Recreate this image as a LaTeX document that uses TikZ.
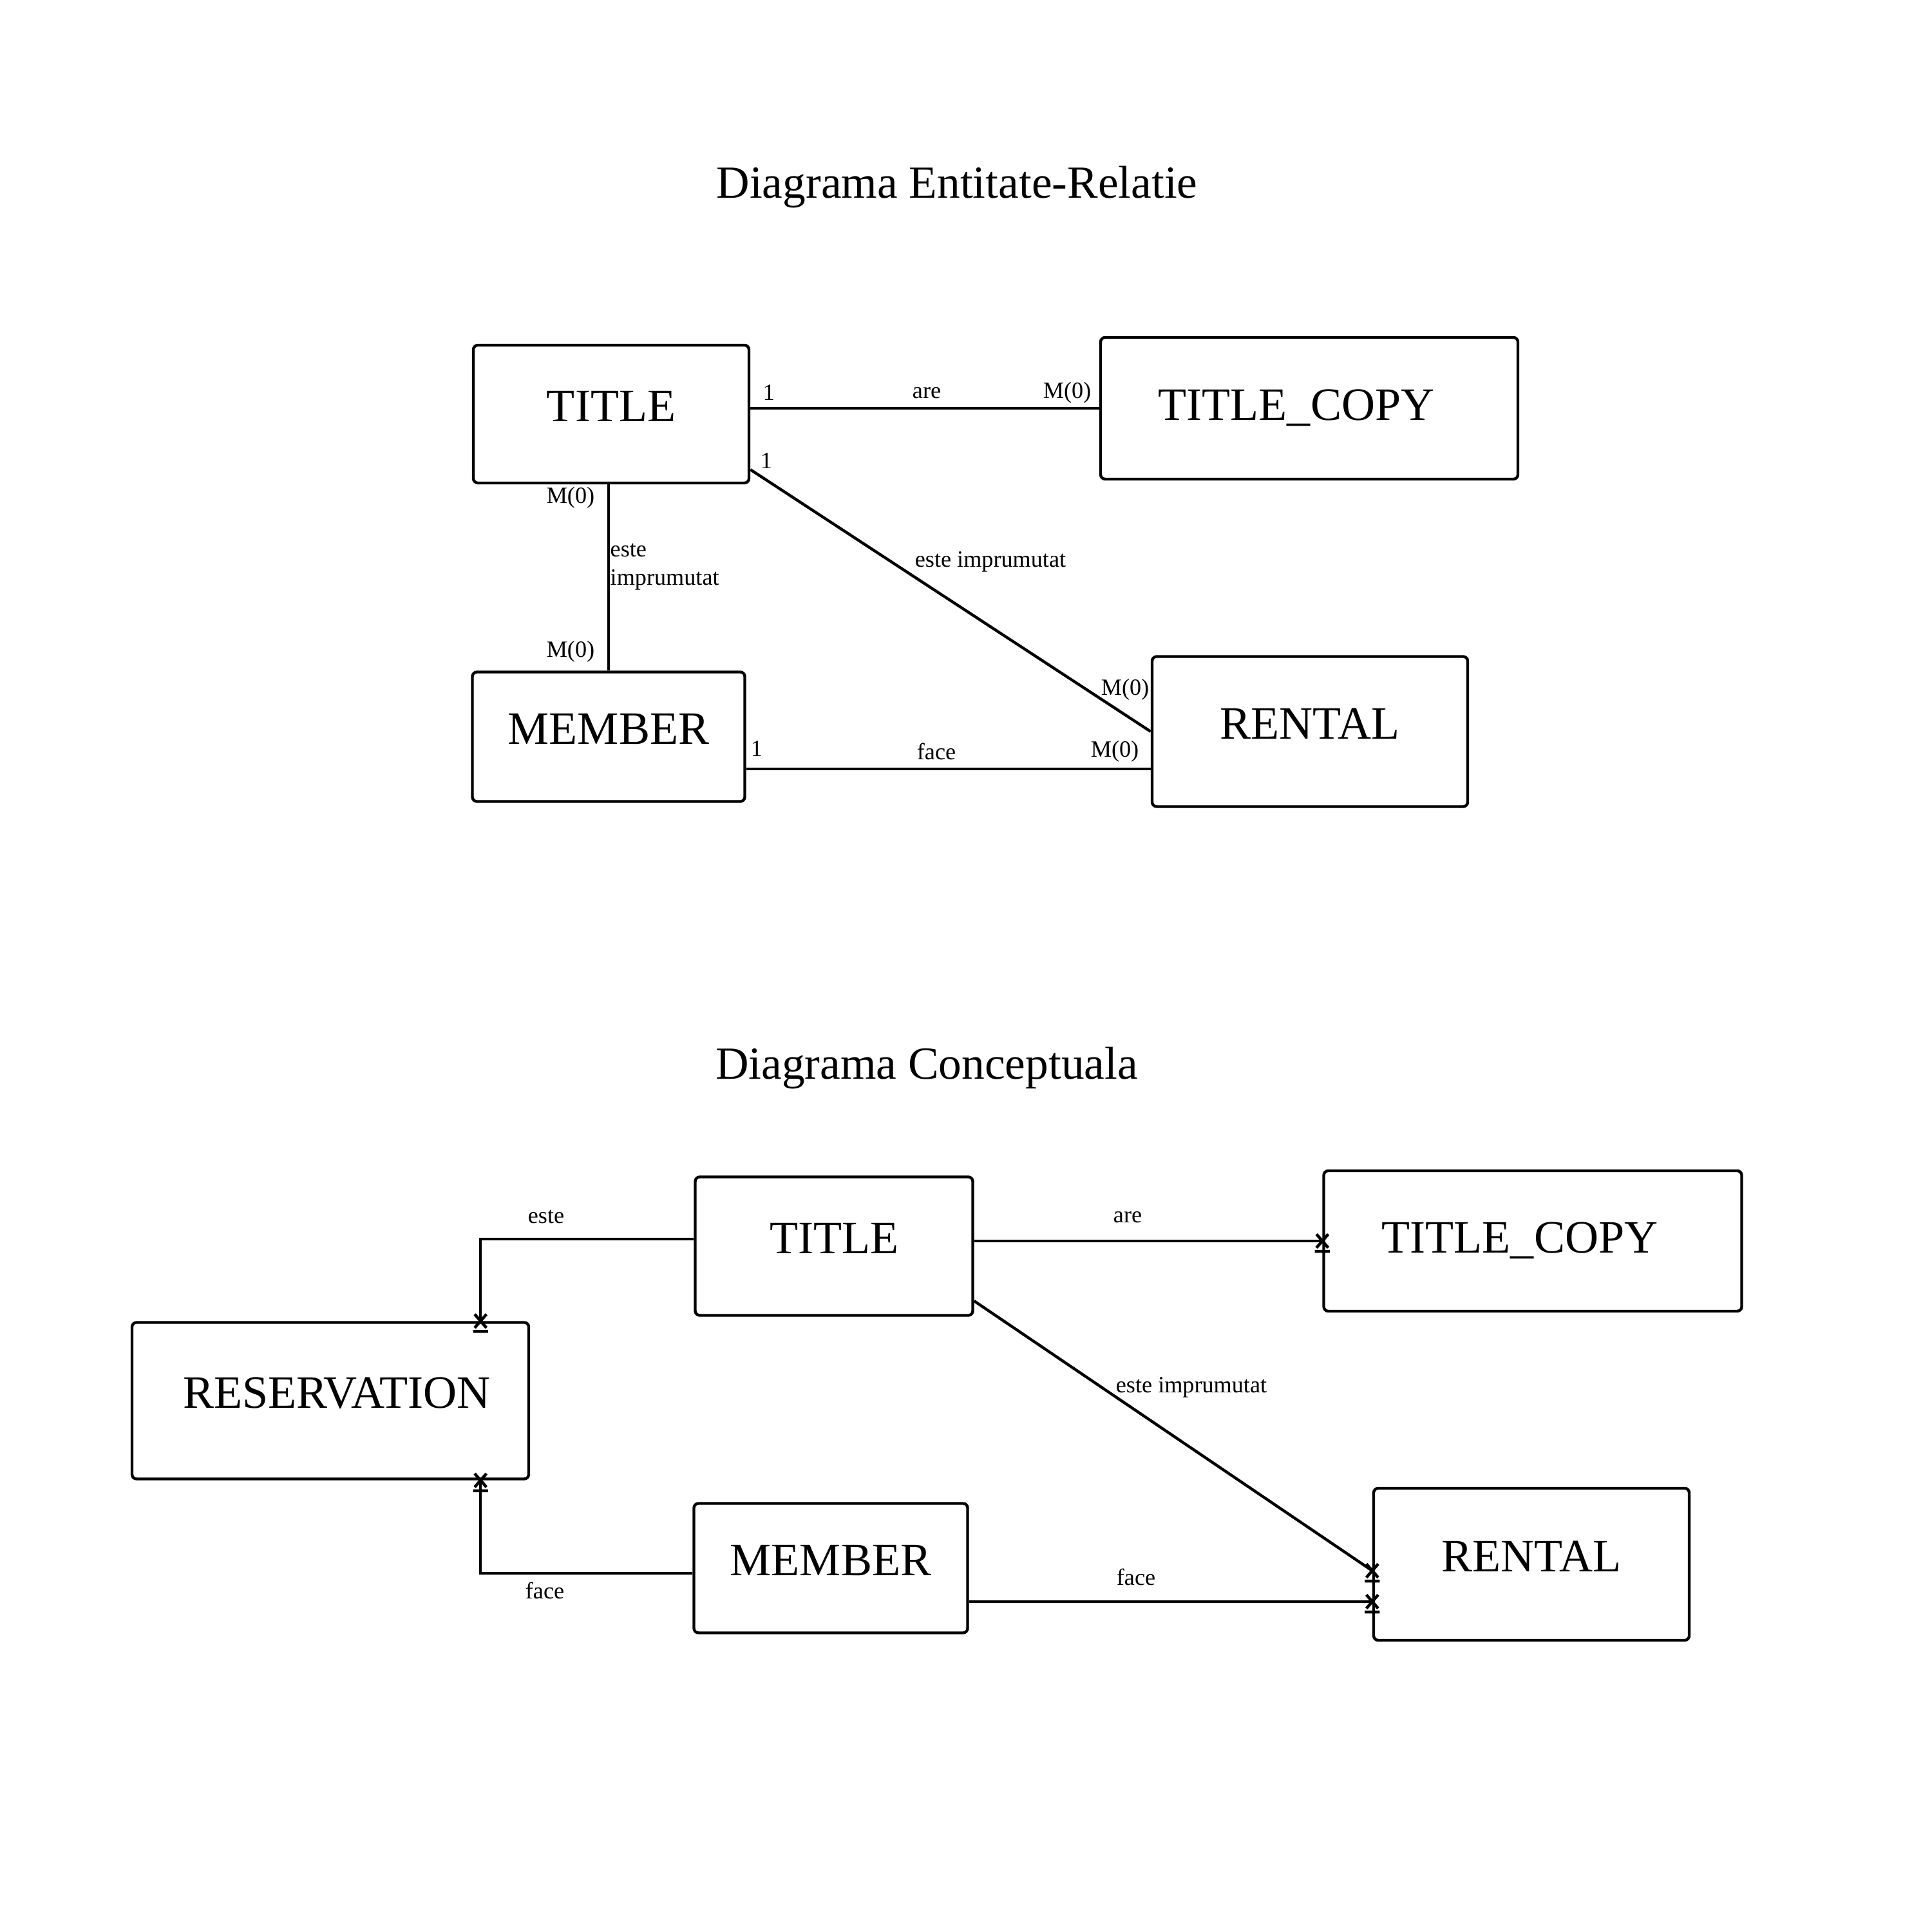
\documentclass[tikz,border=0pt]{standalone}
\usepackage{fontspec}
\setmainfont{Liberation Serif}
\usepackage{tikz}

\tikzset{
	entity/.style = {draw, line width=1.25pt, rounded corners=2pt,
		font=\fontsize{20.5}{24}\selectfont, text depth=0.25cm},
	heading/.style = {font=\fontsize{20.3}{24}\selectfont},
	lbl/.style = {font=\fontsize{10.3}{12.5}\selectfont, inner sep=0pt},
	rel/.style = {line width=1.25pt},
	crossend/.pic = {
		\draw[line width=1.3pt] (-2.6pt,-3pt) -- (2.6pt,3pt) (-2.6pt,3pt) -- (2.6pt,-3pt)
			(-3.3pt,-4.6pt) -- (3.3pt,-4.6pt);}
}

\begin{document}
\begin{tikzpicture}
			\useasboundingbox (0,0) rectangle (30,30);
			%\draw[help lines] (0,0) grid (30,30);
			
			% Diagrama Entitate-Relatie
			\node[heading] (er) at (14.86,27.10) {Diagrama Entitate-Relatie};
			
			\node[entity, minimum width=4.28cm, minimum height=2.14cm] (title) at (9.49,23.57) {TITLE};
			\node[entity, minimum width=6.48cm, minimum height=2.20cm, text depth=0.1cm] (tcopy) at (20.33,23.66) {TITLE\_COPY\kern0.4cm};
			\node[entity, minimum width=4.23cm, minimum height=2.01cm] (member) at (9.45,18.56) {MEMBER};
			\node[entity, minimum width=4.90cm, minimum height=2.33cm] (rental) at (20.34,18.64) {RENTAL};
			
			\draw[rel] (title.east |- tcopy.west) -- (tcopy.west);
			\draw[rel] ([yshift=0.23cm]title.south east) -- (rental.west);
			\draw[rel] (member.north) -- (member.north |- title.south);
			\draw[rel] ([yshift=-0.5cm]member.east) -- ([yshift=-0.5cm]member.east -| rental.west);
			
			\node[lbl] (a1) at (11.94,23.90) {1};
			\node[lbl] (a2) at (14.39,23.90) {are};
			\node[lbl] (a3) at (16.57,23.90) {M(0)};
			
			\node[lbl] (b1) at (11.90,22.84) {1};
			\node[lbl] (b2) at (15.38,21.28) {este imprumutat};
			\node[lbl] (b3) at (17.47,19.29) {M(0)};
			
			\node[lbl] (c1) at (8.86,22.27) {M(0)};
			\node[lbl, align=left, anchor=west] (c2) at (9.47,21.20) {este\\imprumutat};
			\node[lbl] (c3) at (8.86,19.88) {M(0)};
			
			\node[lbl] (d1) at (11.75,18.37) {1};
			\node[lbl] (d2) at (14.54,18.33) {face};
			\node[lbl] (d3) at (17.31,18.33) {M(0)};
			
			% Diagrama Conceptuala
			\node[heading] (conc) at (14.39,13.42) {Diagrama Conceptuala};
			
			\node[entity, minimum width=4.31cm, minimum height=2.15cm] (title2) at (12.95,10.65) {TITLE};
			\node[entity, minimum width=6.49cm, minimum height=2.18cm, text depth=0.1cm] (tcopy2) at (23.80,10.73) {TITLE\_COPY\kern0.4cm};
			\node[entity, minimum width=6.16cm, minimum height=2.43cm] (res) at (5.13,8.25) {\hspace{0.2cm}RESERVATION};
			\node[entity, minimum width=4.25cm, minimum height=2.01cm] (member2) at (12.90,5.65) {MEMBER};
			\node[entity, minimum width=4.90cm, minimum height=2.36cm] (rental2) at (23.78,5.71) {RENTAL};
			
			\draw[rel] ([yshift=0.11cm]title2.west) -| ([xshift=-0.77cm]res.north east) pic {crossend};
			\draw[rel] ([yshift=-0.08cm]member2.west) -| ([xshift=-0.77cm]res.south east) pic {crossend};
			\draw[rel] (title2.east |- tcopy2.west) -- (tcopy2.west) pic {crossend};
			\draw[rel] ([yshift=0.245cm]title2.south east) -- ([yshift=-0.1cm]rental2.west) pic {crossend};
			\draw[rel] ([yshift=-0.52cm]member2.east) -- ([yshift=-0.52cm]member2.east -| rental2.west) pic {crossend};
			
			\node[lbl] (e1) at (8.48,11.10) {este};
			\node[lbl] (e2) at (8.46,5.30) {face};
			\node[lbl] (e3) at (17.51,11.10) {are};
			\node[lbl] (e4) at (18.50,8.46) {este imprumutat};
			\node[lbl] (e5) at (17.64,5.51) {face};
			
\end{tikzpicture}
\end{document}
